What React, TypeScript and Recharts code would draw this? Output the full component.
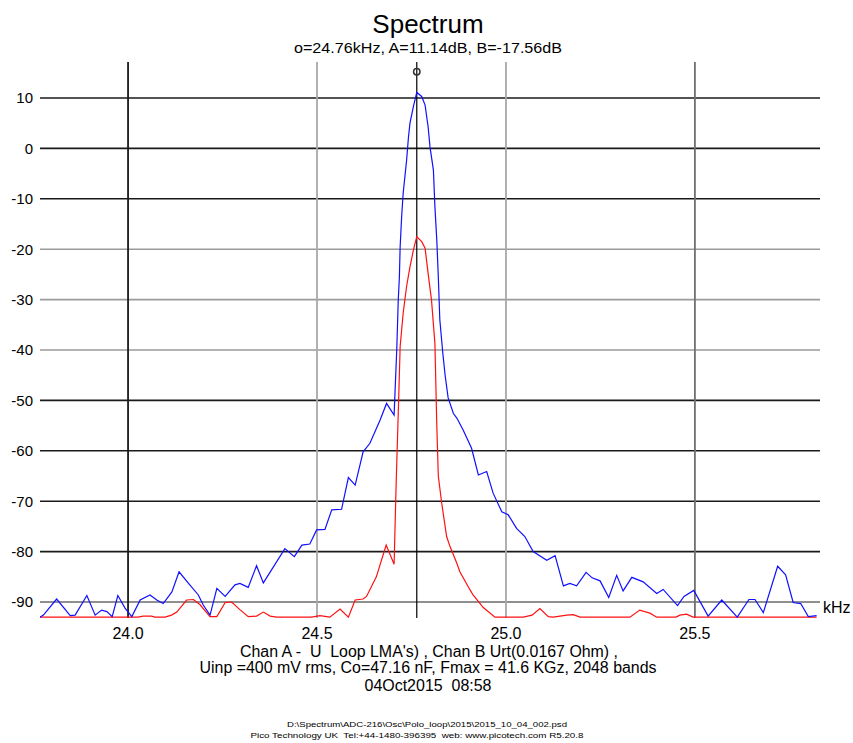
import React from "react";
import { LineChart, Line, XAxis, YAxis, ReferenceLine, ReferenceDot } from "recharts";

// kHz / dB (vertex points)
const blueFreq = [
  23.767, 23.776, 23.811, 23.847, 23.86, 23.891, 23.913, 23.93, 23.944, 23.958,
  23.973, 23.992, 24.01, 24.032, 24.058, 24.076, 24.093, 24.116, 24.135, 24.16,
  24.186, 24.199, 24.217, 24.235, 24.257, 24.283, 24.296, 24.318, 24.34, 24.358,
  24.415, 24.44, 24.46, 24.481, 24.499, 24.521, 24.539, 24.565, 24.583, 24.601,
  24.622, 24.64, 24.667, 24.684, 24.704, 24.711, 24.715, 24.718, 24.72, 24.724,
  24.728, 24.737, 24.742, 24.746, 24.755, 24.764, 24.777, 24.786, 24.794, 24.799,
  24.808, 24.812, 24.817, 24.821, 24.825, 24.833, 24.839, 24.847, 24.861, 24.87,
  24.887, 24.909, 24.927, 24.949, 24.966, 24.989, 25.006, 25.028, 25.05, 25.072,
  25.108, 25.13, 25.152, 25.169, 25.187, 25.212, 25.228, 25.249, 25.272, 25.293,
  25.31, 25.333, 25.363, 25.399, 25.416, 25.454, 25.471, 25.497, 25.535, 25.571,
  25.612, 25.643, 25.659, 25.681, 25.719, 25.74, 25.76, 25.78, 25.8, 25.822,
];
const blueDb = [
  -93, -92.6, -89.4, -92.7, -92.6, -88.7, -92.6, -91.6, -91.9, -92.9,
  -88.7, -91.2, -92.9, -89.6, -88.6, -89.6, -90.3, -88, -84, -86.3,
  -88.6, -90.6, -92.6, -87.3, -88.9, -86.6, -86.3, -87.1, -82.8, -86.2,
  -79.4, -81, -78.7, -78.5, -75.7, -75.6, -71.7, -71.6, -65.3, -66.8,
  -60.2, -58.5, -53.9, -50.6, -52.9, -40, -30.1, -25.5, -19.5, -13.5,
  -8.9, -2.4, 2.2, 5, 8.3, 11.1, 10.3, 8.6, 4.3, 0.3,
  -4.3, -11.6, -18.2, -25.5, -34, -40.7, -45, -49.5, -52.6, -53.5,
  -55.9, -59.5, -64.8, -64.1, -68.4, -72.1, -72.7, -75.4, -77, -80,
  -81.7, -80.8, -86.8, -86.3, -86.8, -84.1, -85.2, -85.8, -89.1, -84.7,
  -87.8, -85.1, -86, -88.3, -87.5, -90.7, -88.9, -87.7, -92.8, -89.6,
  -93, -89.5, -89.5, -92.1, -82.9, -84.6, -90.1, -90.3, -92.9, -92.7,
];

const redFreq = [
  23.767, 24.026, 24.04, 24.062, 24.071, 24.098, 24.115, 24.129, 24.155, 24.173,
  24.19, 24.217, 24.235, 24.257, 24.274, 24.296, 24.318, 24.34, 24.358, 24.376,
  24.393, 24.486, 24.508, 24.534, 24.561, 24.583, 24.601, 24.622, 24.631, 24.657,
  24.683, 24.704, 24.709, 24.712, 24.716, 24.72, 24.728, 24.737, 24.746, 24.755,
  24.764, 24.777, 24.786, 24.794, 24.803, 24.812, 24.817, 24.821, 24.83, 24.843,
  24.852, 24.87, 24.878, 24.905, 24.913, 24.94, 24.971, 25.046, 25.069, 25.09,
  25.112, 25.125, 25.161, 25.178, 25.196, 25.328, 25.354, 25.381, 25.399, 25.45,
  25.46, 25.478, 25.495, 25.822,
];
const redDb = [
  -93, -93, -92.8, -92.8, -93, -93, -92.6, -92, -89.6, -89.5,
  -90.5, -92.9, -92.9, -90.1, -90, -91.5, -92.9, -92.8, -92, -92.8,
  -93, -93, -92.7, -93, -91.4, -93, -89.6, -89.4, -88.9, -85,
  -78.7, -82.5, -67.8, -60, -50, -39.3, -32.7, -27.4, -23.5, -20.2,
  -17.5, -18.5, -19.8, -24.8, -30.1, -38.7, -55, -65, -70.4, -77,
  -79, -82.3, -84, -87.6, -88.6, -91.1, -93, -93, -92.6, -91.3,
  -92.9, -93, -92.6, -92.5, -93, -93, -91.6, -92.2, -93, -93,
  -92.6, -92.4, -93, -93,
];

const xTicks = [24.0, 24.5, 25.0, 25.5];
const yTicks = [10, 0, -10, -20, -30, -40, -50, -60, -70, -80, -90];
const cursorFreq = 24.764;

const blueData = blueFreq.map((f, i) => ({ f, db: blueDb[i] }));
const redData = redFreq.map((f, i) => ({ f, db: redDb[i] }));

const vGrid = [
  { x: 24.0, color: "#1a1a1a" },
  { x: 24.5, color: "#a8a8a8" },
  { x: 25.0, color: "#a8a8a8" },
  { x: 25.5, color: "#707070" },
];
const hGridColor = (v: number) =>
  v <= -20 && v >= -40 ? "#9a9a9a" : v === -90 ? "#6a6a6a" : "#1a1a1a";

const FONT = "'Liberation Sans', Arial, sans-serif";
const pre = { whiteSpace: "pre" as const };

export default function App() {
  return (
    <div style={{ position: "relative", width: 853, height: 743, overflow: "hidden", fontFamily: FONT }}>
      <style>{"body{margin:0}"}</style>
      <LineChart
        width={853}
        height={743}
        margin={{ top: 62, right: 33, left: 0, bottom: 95 }}
      >
        <XAxis
          dataKey="f"
          type="number"
          domain={[23.767, 25.831]}
          ticks={xTicks}
          tickFormatter={(v: number) => v.toFixed(1)}
          allowDataOverflow
          axisLine={false}
          tickLine={false}
          tickSize={0}
          tickMargin={10}
          height={30}
          tick={{ fill: "#000", fontSize: 16, fontFamily: FONT }}
        />
        <YAxis
          type="number"
          domain={[-93.17, 17.14]}
          ticks={yTicks}
          allowDataOverflow
          axisLine={false}
          tickLine={false}
          tickSize={0}
          tickMargin={7}
          width={40}
          tick={{ fill: "#000", fontSize: 15, fontFamily: FONT }}
        />
        {yTicks.map((v) => (
          <ReferenceLine key={"h" + v} y={v} stroke={hGridColor(v)} strokeWidth={1.6} />
        ))}
        {vGrid.map((g) => (
          <ReferenceLine key={"v" + g.x} x={g.x} stroke={g.color} strokeWidth={1.8} />
        ))}
        <ReferenceLine x={cursorFreq} stroke="#000" strokeWidth={1.2} />
        <ReferenceDot x={cursorFreq} y={15.2} r={3.2} fill="none" stroke="#333" strokeWidth={1.5} />
        <Line
          data={redData}
          dataKey="db"
          stroke="#ff1010"
          strokeWidth={1.2}
          dot={false}
          isAnimationActive={false}
        />
        <Line
          data={blueData}
          dataKey="db"
          stroke="#1010ff"
          strokeWidth={1.2}
          dot={false}
          isAnimationActive={false}
        />
      </LineChart>
      <svg
        width={853}
        height={743}
        style={{ position: "absolute", left: 0, top: 0, pointerEvents: "none" }}
        fontFamily={FONT}
        fill="#000"
      >
        <text x={428} y={33} fontSize={26} textAnchor="middle">Spectrum</text>
        <text x={428} y={53} fontSize={15} textAnchor="middle" textLength={268} lengthAdjust="spacingAndGlyphs">
          o=24.76kHz, A=11.14dB, B=-17.56dB
        </text>
        <text x={823} y={613} fontSize={16}>kHz</text>
        <text x={429} y={657} fontSize={16} textAnchor="middle" textLength={378} lengthAdjust="spacingAndGlyphs" style={pre}>
          {"Chan A -  U  Loop LMA's) , Chan B Urt(0.0167 Ohm) ,"}
        </text>
        <text x={428} y={673} fontSize={16} textAnchor="middle" textLength={457} lengthAdjust="spacingAndGlyphs" style={pre}>
          {"Uinp =400 mV rms, Co=47.16 nF, Fmax = 41.6 KGz, 2048 bands"}
        </text>
        <text x={428} y={691} fontSize={16} textAnchor="middle" textLength={127} lengthAdjust="spacingAndGlyphs" style={pre}>
          {"04Oct2015  08:58"}
        </text>
        <text x={427} y={727} fontSize={7} textAnchor="middle" textLength={280} lengthAdjust="spacingAndGlyphs">
          D:\Spectrum\ADC-216\Osc\Polo_loop\2015\2015_10_04_002.psd
        </text>
        <text x={417} y={738} fontSize={7} textAnchor="middle" textLength={333} lengthAdjust="spacingAndGlyphs" style={pre}>
          {"Pico Technology UK  Tel:+44-1480-396395  web: www.picotech.com R5.20.8"}
        </text>
      </svg>
    </div>
  );
}
